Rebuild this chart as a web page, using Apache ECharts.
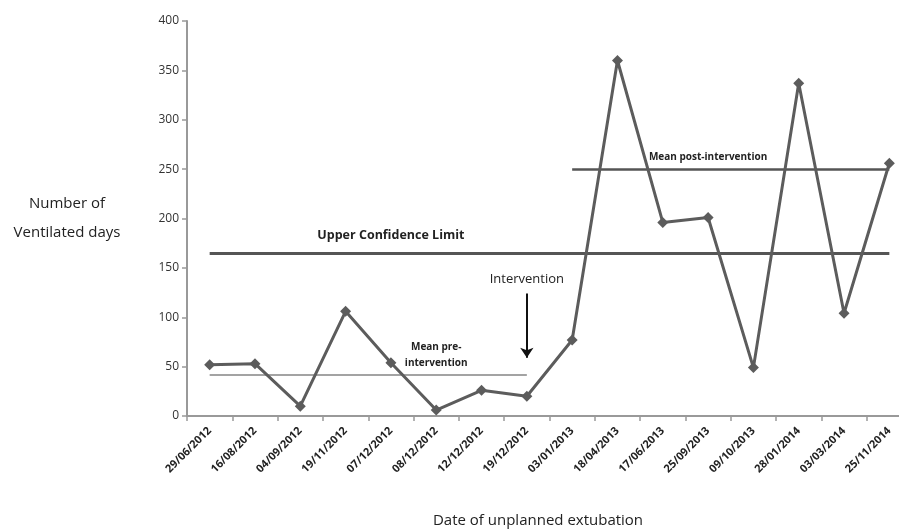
<!DOCTYPE html>
<html>
<head>
<meta charset="utf-8">
<script src="https://cdn.jsdelivr.net/npm/echarts@6/dist/echarts.min.js"></script>
<style>html,body{margin:0;padding:0;background:#fff;overflow:hidden;width:899px;height:531px}#c{width:912px;height:531px}</style>
</head>
<body>
<div id="c"></div>
<script>
const categories = ['29/06/2012','16/08/2012','04/09/2012','19/11/2012','07/12/2012','08/12/2012','12/12/2012','19/12/2012','03/01/2013','18/04/2013','17/06/2013','25/09/2013','09/10/2013','28/01/2014','03/03/2014','25/11/2014'];
const ventilatedDays = [52, 53, 10, 106, 54, 6, 26, 20, 77, 360, 196, 201, 49, 337, 104, 256];
const yTicks = [0, 50, 100, 150, 200, 250, 300, 350, 400];
const upperConfidenceLimit = 165;
const meanPre = 42;
const meanPost = 250;
const preRange = [0, 7];
const postRange = [8, 15];
const interventionIndex = 7;
const arrowFromTo = [124, 59];

const font = '"Open Sans", "Liberation Sans", sans-serif';
const chart = echarts.init(document.getElementById('c'), null, {renderer: 'canvas'});
const hLine = (y, a, b, color, width) => [
  {coord: [a, y], lineStyle: {color: color, width: width, type: 'solid'}},
  {coord: [b, y]}
];
const txt = (x, y, text, size, weight) => ({
  coord: [x, y], value: text, symbolSize: 0,
  label: {show: true, position: 'inside', formatter: text, fontSize: size, fontWeight: weight, color: '#222', fontFamily: font, lineHeight: size + 6}
});
chart.setOption({
  animation: false,
  backgroundColor: '#fff',
  grid: {left: 187, top: 21, bottom: 115, right: 0, containLabel: false},
  xAxis: {
    type: 'category', data: categories, boundaryGap: true,
    axisLine: {lineStyle: {color: '#999', width: 2}},
    axisTick: {show: true, length: 5, lineStyle: {color: '#999', width: 1.5}},
    axisLabel: {rotate: 45, fontSize: 11, fontWeight: 'bold', color: '#222', fontFamily: font, margin: 13, interval: 0}
  },
  yAxis: {
    type: 'value', min: yTicks[0], max: yTicks[yTicks.length - 1], interval: 50,
    axisLine: {show: true, lineStyle: {color: '#999', width: 2}},
    axisTick: {show: true, length: 5, lineStyle: {color: '#999', width: 1.5}},
    splitLine: {show: false},
    axisLabel: {fontSize: 12, color: '#333', fontFamily: font, margin: 8}
  },
  graphic: [
    {type: 'text', x: 67, y: 189, style: {text: 'Number of\nVentilated days', fontSize: 15, lineHeight: 29, fill: '#222', fontFamily: font, align: 'center'}},
    {type: 'text', x: 538, y: 513, style: {text: 'Date of unplanned extubation', fontSize: 15, fill: '#222', fontFamily: font, align: 'center'}}
  ],
  series: [
    {
      type: 'line', data: ventilatedDays, symbol: 'diamond', symbolSize: 11,
      lineStyle: {color: '#5c5c5c', width: 3}, itemStyle: {color: '#5c5c5c'}, z: 5,
      markLine: {
        silent: true, symbol: 'none', label: {show: false},
        data: [
          hLine(upperConfidenceLimit, 0, 15, '#555', 3),
          hLine(meanPre, preRange[0], preRange[1], '#a3a3a3', 2),
          hLine(meanPost, postRange[0], postRange[1], '#555', 2.5),
          [
            {coord: [interventionIndex, arrowFromTo[0]], symbol: 'none', lineStyle: {color: '#111', width: 2, type: 'solid'}},
            {coord: [interventionIndex, arrowFromTo[1]], symbol: 'arrow', symbolSize: 10}
          ]
        ]
      },
      markPoint: {
        silent: true, symbol: 'circle', symbolSize: 0, itemStyle: {color: 'transparent'},
        data: [
          txt(4.2, 183, 'Upper Confidence Limit', 12.5, 'bold'),
          txt(interventionIndex, 138, 'Intervention', 13, 'normal'),
          txt(5.28, 62, 'Mean pre-\nintervention', 10, 'bold'),
          txt(11.2, 262, 'Mean post-intervention', 10, 'bold')
        ]
      }
    }
  ]
});
</script>
</body>
</html>
